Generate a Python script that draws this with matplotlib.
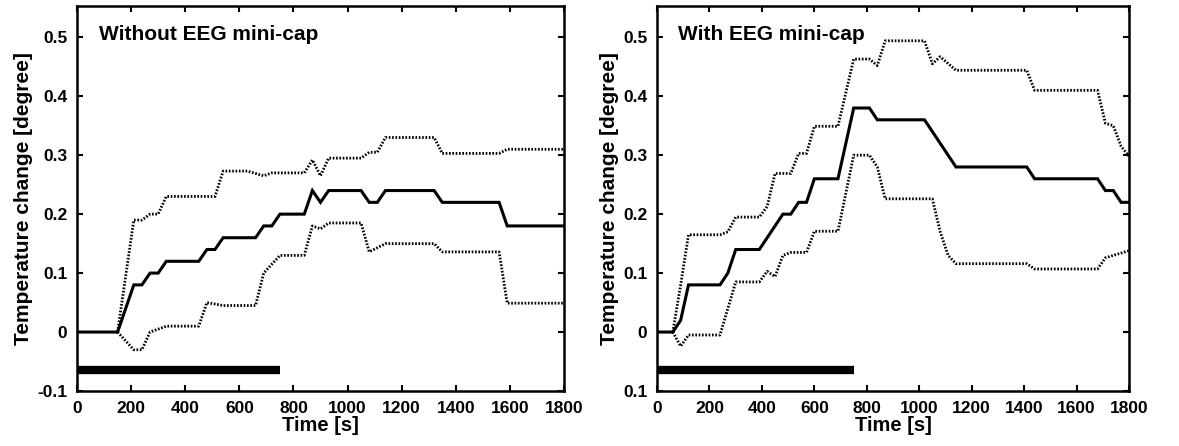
import matplotlib
matplotlib.use("Agg")
import matplotlib.pyplot as plt

plt.rcParams['font.family'] = ['Liberation Sans', 'DejaVu Sans']
plt.rcParams['font.weight'] = 'bold'

# ---- Without EEG mini-cap (left panel) ----
t_mean_a = [0, 150, 210, 240, 270, 300, 330, 450, 480, 510, 540, 660, 690, 720, 750,
            840, 870, 900, 930, 1050, 1080, 1110, 1140, 1320, 1350, 1560, 1590, 1800]
mean_a = [0, 0, 0.08, 0.08, 0.10, 0.10, 0.12, 0.12, 0.14, 0.14, 0.16, 0.16, 0.18, 0.18, 0.20,
          0.20, 0.24, 0.22, 0.24, 0.24, 0.22, 0.22, 0.24, 0.24, 0.22, 0.22, 0.18, 0.18]

t_up_a = [150, 210, 240, 270, 300, 330, 510, 540, 630, 690, 720, 840, 870, 900, 930,
          1050, 1080, 1110, 1140, 1320, 1350, 1560, 1590, 1800]
up_a = [0, 0.19, 0.19, 0.20, 0.20, 0.23, 0.23, 0.273, 0.273, 0.265, 0.27, 0.27, 0.292, 0.265, 0.295,
        0.295, 0.305, 0.305, 0.33, 0.33, 0.303, 0.303, 0.31, 0.31]

t_lo_a = [150, 210, 240, 270, 330, 450, 480, 540, 660, 690, 750, 840, 870, 900, 930,
          1050, 1080, 1140, 1320, 1350, 1560, 1590, 1800]
lo_a = [0, -0.03, -0.03, 0.0, 0.01, 0.01, 0.05, 0.045, 0.045, 0.10, 0.13, 0.13, 0.18, 0.175, 0.185,
        0.185, 0.136, 0.15, 0.15, 0.136, 0.136, 0.049, 0.049]

# ---- With EEG mini-cap (right panel) ----
t_mean_b = [0, 60, 90, 120, 240, 270, 300, 390, 480, 510, 540, 570, 600, 690, 750, 810,
            840, 1020, 1140, 1410, 1440, 1680, 1710, 1740, 1770, 1800]
mean_b = [0, 0, 0.02, 0.08, 0.08, 0.10, 0.14, 0.14, 0.20, 0.20, 0.22, 0.22, 0.26, 0.26, 0.38, 0.38,
          0.36, 0.36, 0.28, 0.28, 0.26, 0.26, 0.24, 0.24, 0.22, 0.22]

t_up_b = [60, 90, 120, 240, 270, 300, 390, 420, 450, 510, 540, 570, 600, 690, 750, 810,
          840, 870, 1020, 1050, 1080, 1140, 1410, 1440, 1680, 1710, 1740, 1770, 1800]
up_b = [0, 0.08, 0.165, 0.165, 0.17, 0.195, 0.195, 0.213, 0.269, 0.269, 0.303, 0.303, 0.349, 0.349,
        0.463, 0.463, 0.452, 0.494, 0.494, 0.455, 0.467, 0.444, 0.444, 0.41, 0.41, 0.354, 0.35,
        0.315, 0.298]

t_lo_b = [60, 90, 120, 240, 270, 300, 390, 420, 450, 480, 510, 570, 600, 690, 750, 810,
          840, 870, 1050, 1080, 1110, 1140, 1410, 1440, 1680, 1710, 1740, 1800]
lo_b = [0, -0.024, -0.005, -0.005, 0.04, 0.085, 0.085, 0.103, 0.094, 0.13, 0.135, 0.135, 0.171, 0.171,
        0.30, 0.30, 0.28, 0.226, 0.226, 0.17, 0.13, 0.116, 0.116, 0.107, 0.107, 0.126, 0.13, 0.138]

# stimulation period bar
bar_t = [0, 750]
bar_y = -0.065

x_ticks = [0, 200, 400, 600, 800, 1000, 1200, 1400, 1600, 1800]
y_ticks = [-0.1, 0, 0.1, 0.2, 0.3, 0.4, 0.5]
y_labels_a = ['-0.1', '0', '0.1', '0.2', '0.3', '0.4', '0.5']
y_labels_b = ['0.1', '0', '0.1', '0.2', '0.3', '0.4', '0.5']

fig = plt.figure(figsize=(11.79, 4.46), dpi=100)
ax1 = fig.add_axes([0.0653, 0.1233, 0.4131, 0.8632])
ax2 = fig.add_axes([0.5573, 0.1233, 0.4003, 0.8632])

panels = [
    (ax1, t_mean_a, mean_a, t_up_a, up_a, t_lo_a, lo_a, 'Without EEG mini-cap', y_labels_a),
    (ax2, t_mean_b, mean_b, t_up_b, up_b, t_lo_b, lo_b, 'With EEG mini-cap', y_labels_b),
]

for ax, tm, m, tu, u, tl, l, title, ylab in panels:
    ax.plot(tm, m, color='black', lw=2.2, solid_joinstyle='miter')
    ax.plot(tu, u, color='black', lw=2.0, linestyle=(0, (0.6, 0.6)))
    ax.plot(tl, l, color='black', lw=2.0, linestyle=(0, (0.6, 0.6)))
    ax.plot(bar_t, [bar_y, bar_y], color='black', lw=6, solid_capstyle='butt')
    ax.set_xlim(0, 1800)
    ax.set_ylim(-0.1, 0.553)
    ax.set_xticks(x_ticks)
    ax.set_xticklabels([str(v) for v in x_ticks], fontsize=12.5, fontweight='bold')
    ax.set_yticks(y_ticks)
    ax.set_yticklabels(ylab, fontsize=12.5, fontweight='bold')
    ax.tick_params(direction='in', length=4, width=1.5, top=True, right=True, pad=7)
    ax.tick_params(axis='x', pad=7)
    for sp in ax.spines.values():
        sp.set_linewidth(1.8)
    ax.set_xlabel('Time [s]', fontsize=14.5, fontweight='bold', labelpad=0)
    ax.set_ylabel('Temperature change [degree]', fontsize=15, fontweight='bold', labelpad=3)
    ax.text(0.045, 0.925, title, transform=ax.transAxes, fontsize=15, fontweight='bold',
            ha='left', va='center')

fig.savefig('out.png', dpi=100)
